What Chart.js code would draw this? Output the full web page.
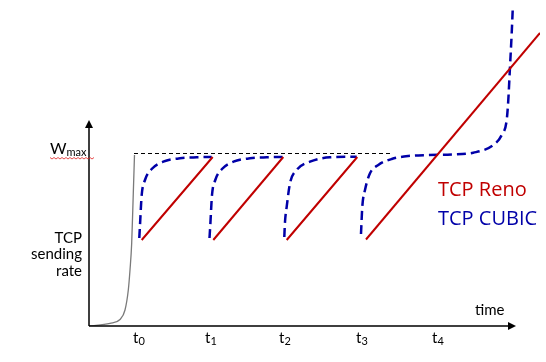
<!DOCTYPE html>
<html>
<head>
<meta charset="utf-8">
<script src="https://cdn.jsdelivr.net/npm/chart.js@4.4.0/dist/chart.umd.min.js"></script>
<style>
	html, body { margin: 0; padding: 0; background: #fff; }
	#wrap { width: 546px; height: 362px; }
</style>
</head>
<body>
<div id="wrap"><canvas id="chart" width="546" height="362"></canvas></div>
<script>
// valores (tempo x taxa, unidades arbitrarias)
const X_MAX = 451;
const Y_MAX = 326;
const W_MAX = 172.5;

const tickTimes = [49, 121, 195, 272, 348];
const tickLabels = ['0', '1', '2', '3', '4'];

const slowStart = [
	{x:0,y:0},{x:21,y:2.7},{x:31,y:6.5},{x:36,y:16},{x:39.3,y:36},
	{x:41,y:56},{x:42.7,y:83},{x:44.3,y:133},{x:45.5,y:171}
];

const wmaxLine = [{x:45,y:W_MAX},{x:303,y:W_MAX}];

const reno1 = [{x:52.7,y:86},{x:123.7,y:169}];
const reno2 = [{x:124.3,y:86},{x:194.3,y:169}];
const reno3 = [{x:197.7,y:86},{x:268.3,y:169}];
const reno4 = [{x:277,y:86.5},{x:451,y:293}];

const cubic1 = [
	{x:50.3,y:88},{x:51,y:101},{x:52.7,y:131},{x:56,y:146},{x:62.7,y:157},
	{x:74.3,y:164.3},{x:91,y:167.7},{x:107.7,y:168.7},{x:122.7,y:169}
];
const cubic2 = [
	{x:120.5,y:88},{x:121.3,y:101},{x:123,y:131},{x:126.3,y:146},{x:133,y:157},
	{x:144.5,y:164.3},{x:161,y:167.7},{x:177.7,y:168.7},{x:193.5,y:169}
];
const cubic3 = [
	{x:195.3,y:89},{x:196,y:104},{x:197.7,y:119.3},{x:201,y:142.7},{x:207.7,y:156},
	{x:221,y:164.3},{x:241,y:168.7},{x:267.7,y:169.3}
];
const cubic4 = [
	{x:272,y:92},{x:273.3,y:119.3},{x:276,y:136},{x:281,y:152.7},{x:289.3,y:161},
	{x:302.7,y:167},{x:319.3,y:170},{x:339.3,y:171},{x:362.7,y:171.5},{x:384.3,y:173.3},
	{x:404.3,y:181},{x:412.7,y:191},{x:417.7,y:206},{x:419.3,y:226},{x:421,y:259.3},
	{x:422.7,y:292.7},{x:423.7,y:316}
];

const RED = '#c00000';
const BLUE = '#0000a8';
const SMALL_FONT = '15px Lato';
const BIG_FONT = '20px "Open Sans"';

function line(data, color, width, dash){
	return {
		data: data,
		borderColor: color,
		borderWidth: width,
		borderDash: dash || [],
		pointRadius: 0,
		showLine: true,
		fill: false,
		tension: 0.4,
		cubicInterpolationMode: 'monotone'
	};
}

function subText(ctx, main, sub, x, y, mainFont, subFont, dy){
	ctx.font = mainFont;
	ctx.fillText(main, x, y);
	const w = ctx.measureText(main).width;
	ctx.font = subFont;
	ctx.fillText(sub, x + w, y + dy);
	ctx.font = mainFont;
	return w + ctx.measureText(sub).width;
}

const decor = {
	id: 'decor',
	afterDatasetsDraw(chart){
		const ctx = chart.ctx;
		const xs = chart.scales.x, ys = chart.scales.y;
		const x0 = xs.getPixelForValue(0), y0 = ys.getPixelForValue(0);
		const yTop = ys.getPixelForValue(206);
		const xEnd = xs.getPixelForValue(427);
		ctx.save();
		// eixos
		ctx.strokeStyle = '#000';
		ctx.fillStyle = '#000';
		ctx.lineWidth = 1.5;
		ctx.beginPath();
		ctx.moveTo(x0, y0); ctx.lineTo(x0, yTop + 6);
		ctx.moveTo(x0, y0); ctx.lineTo(xEnd - 6, y0);
		ctx.stroke();
		ctx.beginPath();
		ctx.moveTo(x0, yTop); ctx.lineTo(x0 - 4, yTop + 8); ctx.lineTo(x0 + 4, yTop + 8); ctx.closePath();
		ctx.fill();
		ctx.beginPath();
		ctx.moveTo(xEnd, y0); ctx.lineTo(xEnd - 8, y0 - 4); ctx.lineTo(xEnd - 8, y0 + 4); ctx.closePath();
		ctx.fill();

		// rotulos de tempo
		ctx.fillStyle = '#000';
		ctx.textBaseline = 'alphabetic';
		ctx.textAlign = 'left';
		tickTimes.forEach((t, i)=>{
			const px = xs.getPixelForValue(t);
			subText(ctx, 't', tickLabels[i], px - 5, 343, SMALL_FONT, '11px Lato', 2);
		});
		ctx.font = SMALL_FONT;
		ctx.fillText('time', 475, 315);

		// eixo y
		ctx.textAlign = 'right';
		ctx.fillText('TCP', 82, 243);
		ctx.fillText('sending', 82, 259);
		ctx.fillText('rate', 82, 276);

		// Wmax
		ctx.textAlign = 'left';
		const wy = ys.getPixelForValue(W_MAX);
		const ww = subText(ctx, 'W', 'max', 50, wy, '16px Lato', '11px Lato', 2);
		ctx.strokeStyle = '#e02020';
		ctx.lineWidth = 0.8;
		ctx.beginPath();
		for (let x = 50; x <= 50 + ww; x += 2){
			const yy = wy + 4 + ((x - 50) % 4 === 0 ? 0 : 1.5);
			if (x === 50) ctx.moveTo(x, yy); else ctx.lineTo(x, yy);
		}
		ctx.stroke();

		// legenda
		ctx.font = BIG_FONT;
		ctx.fillStyle = RED;
		ctx.fillText('TCP Reno', 438, 196);
		ctx.fillStyle = BLUE;
		ctx.fillText('TCP CUBIC', 438, 225);
		ctx.restore();
	}
};

window.addEventListener('DOMContentLoaded', ()=>{
	new Chart(document.getElementById('chart'), {
		type: 'scatter',
		data: {
			datasets: [
				line(slowStart, '#7a7a7a', 1.3),
				line(wmaxLine, '#000', 1, [4, 3]),
				line(reno1, RED, 2),
				line(reno2, RED, 2),
				line(reno3, RED, 2),
				line(reno4, RED, 2),
				line(cubic1, BLUE, 2.5, [9, 5]),
				line(cubic2, BLUE, 2.5, [9, 5]),
				line(cubic3, BLUE, 2.5, [9, 5]),
				line(cubic4, BLUE, 2.5, [9, 5])
			]
		},
		options: {
			responsive: false,
			animation: false,
			layout: { padding: { left: 89, right: 6, top: 0, bottom: 36 } },
			plugins: { legend: { display: false }, tooltip: { enabled: false } },
			scales: {
				x: { type: 'linear', display: false, min: 0, max: X_MAX },
				y: { type: 'linear', display: false, min: 0, max: Y_MAX }
			}
		},
		plugins: [decor]
	});
});
</script>
</body>
</html>
